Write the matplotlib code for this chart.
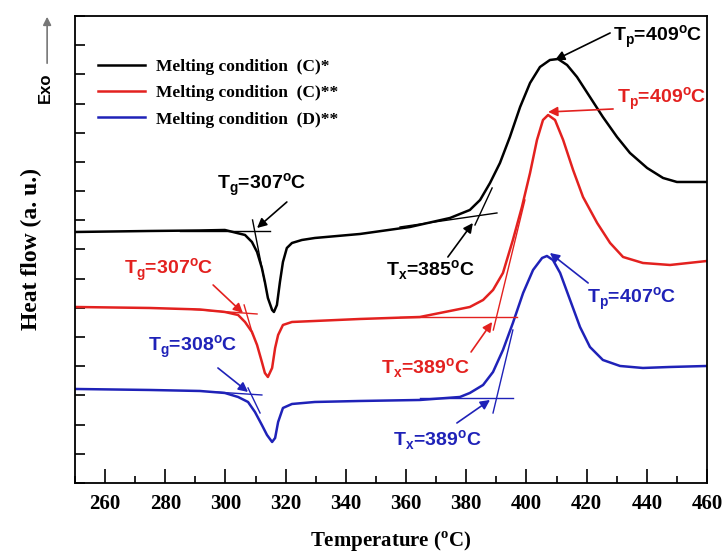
import numpy as np
import matplotlib.pyplot as plt
from matplotlib.patches import FancyArrowPatch

# DSC traces: temperature (degC) and heat flow (a. u.)
temp_c1 = [250.0, 274.9, 291.5, 299.8, 306.5, 308.8, 310.5, 312.1, 313.1, 314.1,
           315.5, 316.1, 317.1, 318.1, 319.1, 320.4, 322.1, 325.4, 329.7, 344.7,
           361.3, 374.6, 381.2, 384.6, 387.9, 391.2, 394.5, 397.9, 401.2, 404.5,
           407.8, 410.5, 413.5, 416.8, 421.1, 425.4, 430.1, 434.4, 440.1, 445.4,
           450.0, 460.0]
flow_c1 = [225, 226, 226.5, 227, 222, 215, 205, 189, 175, 159,
           147, 145, 152, 175, 195, 209, 214, 217, 219, 223,
           230, 239, 247, 257, 274, 294, 320, 350, 374, 390,
           397, 398, 392, 380, 360, 340, 320, 304, 289, 279,
           275, 275]

temp_c2 = [250.0, 274.9, 291.5, 299.8, 304.2, 306.5, 308.8, 310.5, 312.1, 313.1,
           314.1, 315.5, 316.5, 317.5, 319.1, 322.1, 329.7, 344.7, 364.6, 377.9,
           381.2, 385.6, 388.9, 392.2, 395.5, 398.5, 401.2, 403.5, 405.5, 407.2,
           409.5, 412.2, 415.5, 418.8, 423.5, 427.8, 432.1, 438.7, 447.7, 460.0]
flow_c2 = [150, 149, 147.5, 145, 142, 135, 125, 112, 95, 84,
           80, 89, 109, 122, 132, 135, 136, 138, 140, 148,
           150, 157, 167, 184, 217, 250, 284, 317, 337, 342,
           337, 317, 287, 260, 234, 214, 200, 194, 192, 196]

temp_d2 = [250.0, 274.9, 291.5, 299.8, 304.2, 307.5, 309.8, 312.1, 313.8, 315.5,
           316.5, 317.5, 319.1, 322.1, 329.7, 344.7, 364.6, 377.9, 381.2, 385.6,
           388.9, 392.2, 395.5, 398.9, 402.2, 405.2, 406.8, 408.8, 411.2, 414.5,
           417.8, 421.1, 425.4, 431.1, 438.7, 447.7, 460.0]
flow_d2 = [68, 67, 66, 64, 60, 55, 45, 32, 22, 15,
           19, 35, 49, 53, 55, 56, 57, 60, 64, 72,
           85, 107, 134, 164, 187, 199, 201, 197, 184, 157,
           130, 110, 97, 91, 89, 90, 91]

labels = ['Melting condition  (C)*', 'Melting condition  (C)**', 'Melting condition  (D)**']
red = '#e3211f'
blue = '#1f22b8'
colors = ['black', red, blue]

# onset tangent construction lines: colour, (T1, T2), (hf1, hf2)
tangents = [
    ('black', (285.0, 314.8), (226, 226)),
    ('black', (309.0, 313.1), (237, 174)),
    ('black', (358.0, 390.2), (230, 244)),
    ('black', (382.9, 388.6), (232, 269)),
    (red, (287.2, 310.5), (148, 143)),
    (red, (306.2, 309.1), (152, 122)),
    (red, (358.0, 396.9), (140, 140)),
    (red, (389.0, 399.5), (127, 257)),
    (blue, (296.5, 312.1), (65, 62)),
    (blue, (307.5, 311.5), (69, 44)),
    (blue, (364.6, 395.5), (59, 59)),
    (blue, (388.9, 395.5), (44, 127)),
]

# text, colour, text position, arrow tail, arrow head
notes = [
    ('T$_\\mathregular{g}$=307$^\\mathregular{o}$C', 'black', (312.0, 272), (320.4, 255), (310.5, 229)),
    ('T$_\\mathregular{x}$=385$^\\mathregular{o}$C', 'black', (368.0, 187), (373.9, 200), (382.2, 234)),
    ('T$_\\mathregular{p}$=409$^\\mathregular{o}$C', 'black', (443.5, 420), (427.8, 424), (409.5, 397)),
    ('T$_\\mathregular{g}$=307$^\\mathregular{o}$C', red, (281.0, 187), (295.9, 172), (305.8, 144)),
    ('T$_\\mathregular{x}$=389$^\\mathregular{o}$C', red, (366.3, 89), (381.6, 105), (388.6, 135)),
    ('T$_\\mathregular{p}$=409$^\\mathregular{o}$C', red, (445.0, 358), (428.8, 348), (407.2, 345)),
    ('T$_\\mathregular{g}$=308$^\\mathregular{o}$C', blue, (289.0, 110), (297.5, 89), (307.5, 65)),
    ('T$_\\mathregular{x}$=389$^\\mathregular{o}$C', blue, (370.3, 17), (376.9, 34), (387.9, 57)),
    ('T$_\\mathregular{p}$=407$^\\mathregular{o}$C', blue, (435.1, 158), (420.5, 174), (407.8, 204)),
]

serif = 'Liberation Serif'
sans = 'Liberation Sans'

fig = plt.figure(figsize=(7.25, 5.57), dpi=100)
ax = fig.add_axes([0.1034, 0.1329, 0.8718, 0.8384])

for t, f, lab, c in zip([temp_c1, temp_c2, temp_d2], [flow_c1, flow_c2, flow_d2], labels, colors):
    ax.plot(t, f, color=c, lw=1.8, label=lab, solid_joinstyle='round')

for c, tx, fy in tangents:
    ax.plot(tx, fy, color=c, lw=1.0)

for txt, c, pos, tail, head in notes:
    ax.annotate('', xy=head, xytext=tail,
                arrowprops=dict(arrowstyle='-|>', color=c, lw=1.2, mutation_scale=14,
                                shrinkA=0, shrinkB=0))
    ax.text(pos[0], pos[1], txt, color=c, fontsize=14, fontweight='bold',
            family=sans, ha='center', va='center')

ax.set_xlim(250, 460)
ax.set_ylim(-26, 441)
ax.set_xticks(np.arange(260, 461, 20))
ax.set_xticks(np.arange(250, 461, 10), minor=True)
ax.set_yticks(np.linspace(-26, 441, 17))
ax.set_yticklabels([])
ax.tick_params(axis='x', which='major', direction='in', length=10, width=1.2, pad=8)
ax.tick_params(axis='x', which='minor', direction='in', length=5, width=1.2)
ax.tick_params(axis='y', direction='in', length=7, width=1.2)
for lab in ax.get_xticklabels():
    lab.set_family(serif)
    lab.set_fontweight('bold')
    lab.set_fontsize(15)
for s in ax.spines.values():
    s.set_linewidth(1.3)

ax.set_xlabel('Temperature ($^\\mathregular{o}$C)', family=serif, fontweight='bold',
              fontsize=15, labelpad=11)
ax.set_ylabel('Heat flow (a. u.)', family=serif, fontweight='bold', fontsize=17, labelpad=20)

ax.legend(loc='upper left', bbox_to_anchor=(0.036, 0.908), frameon=False,
          prop=dict(family=serif, weight='bold', size=12.5),
          handlelength=2.75, handletextpad=0.63, labelspacing=0.58,
          borderpad=0, borderaxespad=0)

# Exo arrow outside the axes
fig.text(0.062, 1 - 88 / 557, 'Exo', rotation=90, family=sans, fontweight='bold',
         fontsize=12, ha='center', va='center')
fig.patches.append(FancyArrowPatch(
    (0.065, 1 - 66 / 557), (0.065, 1 - 14 / 557), transform=fig.transFigure,
    arrowstyle='-|>', mutation_scale=12, color='#777777', lw=1.2))

fig.savefig('out.png', dpi=100)
